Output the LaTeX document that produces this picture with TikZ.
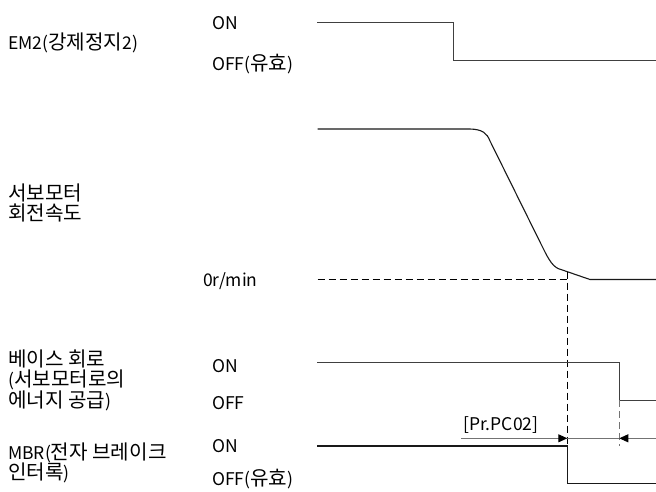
\documentclass[tikz,border=0pt]{standalone}
\usepackage{fontspec}
\setmainfont{Noto Sans CJK KR}
\newfontfamily\kr{Noto Sans CJK KR}[Scale=1.15]
\usetikzlibrary{arrows.meta}
\begin{document}
\begin{tikzpicture}[x=1pt,y=-1pt,
  lbl/.style={anchor=west,inner sep=0pt,font=\fontsize{17.5}{20.5}\selectfont,align=left,text=black},
  sig/.style={line width=1.3pt,draw=black!75},
  spd/.style={line width=1.1pt,draw=black!90},
  dsh/.style={line width=0.9pt,dash pattern=on 7pt off 4pt},
  dim/.style={line width=0.9pt,draw=black!55},
  tip/.style={-{Triangle[length=9pt,width=8pt,color=black]}}]
\useasboundingbox (0,0) rectangle (656,491);
% left labels
\node[lbl] (em2) at (8,43) {EM2({\kr 강제정지}2)};
\node[lbl] (spdl) at (8,203) {{\kr 서보모터}\\{\kr 회전속도}};
\node[lbl] (base) at (8,380) {{\kr 베이스 회로}\\({\kr 서보모터로의}\\{\kr 에너지 공급})};
\node[lbl] (mbr) at (8,463) {MBR({\kr 전자 브레이크}\\{\kr 인터록})};
% level labels
\node[lbl] (on1) at (212,23) {ON};
\node[lbl] (off1) at (212,64) {OFF({\kr 유효})};
\node[lbl] (zero) at (203,281.5) {0r/min};
\node[lbl] (on2) at (212,366.5) {ON};
\node[lbl] (off2) at (212,403) {OFF};
\node[lbl] (on3) at (212,446.5) {ON};
\node[lbl] (off3) at (212,479) {OFF({\kr 유효})};
\node[lbl] (pc02) at (463,425) {[Pr.PC02]};
% coordinates
\coordinate (t1) at (567.3,438.3);
\coordinate (t2) at (619.3,438.3);
% EM2 signal
\draw[sig] (317,22.5) -- (453.7,22.5) -- (453.7,60.5) -- (656,60.5);
% speed
\draw[spd] (317.7,129) -- (470,129) .. controls (482,129.3) and (487,133) .. (490,141)
  -- (541,244) .. controls (547,256) and (551,265) .. (558,268.5) -- (590,279.5) -- (656,279.5);
\draw[dsh] (317.7,279.5) -- (567.3,279.5);
\draw[dsh] (567.3,271.5) -- (567.3,446);
% base circuit
\draw[sig] (317,362.7) -- (619.3,362.7) -- (619.3,400.3) -- (656,400.3);
\draw[dsh,draw=black!55] (619.3,400.3) -- (619.3,446);
% MBR
\draw[spd] (317,446) -- (567.3,446) -- (567.3,483.3) -- (656,483.3);
% dimension
\draw[dim] (t1) -- (t2);
\draw[dim,tip] (461,438.3) -- (t1);
\draw[dim,tip] (656,438.3) -- (t2);
\end{tikzpicture}
\end{document}
